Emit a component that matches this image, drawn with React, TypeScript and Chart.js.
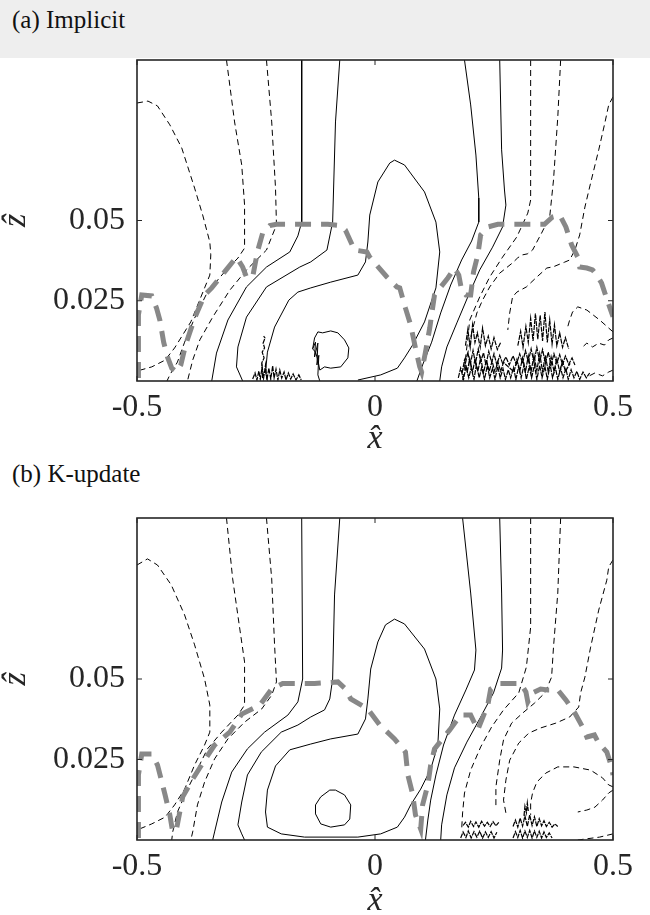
import React, { useEffect, useRef } from "react";
import { Chart, registerables } from "chart.js";

Chart.register(...registerables);

type Pt = [number, number];

// ---------- axes / text ----------
const X_RANGE: Pt = [-0.5, 0.5];
const Z_RANGE: Pt = [0, 0.1];
const X_TICKS = [-0.5, 0, 0.5];
const X_TICK_LABELS = ["-0.5", "0", "0.5"];
const Z_TICKS = [0.025, 0.05];
const Z_TICK_LABELS = ["0.025", "0.05"];
const PANEL_TITLES = ["(a) Implicit", "(b) K-update"];
const X_TITLE = "x\u0302";
const Z_TITLE = "\u1E91";

// ---------- panel (a) : Implicit ----------
const A_GRAY: Pt[] = [[-0.497,0.0009],[-0.497,0.0206],[-0.490,0.0268],[-0.469,0.0265],[-0.459,0.0227],[-0.452,0.0190],[-0.444,0.0121],[-0.436,0.0075],[-0.427,0.0040],[-0.417,0.0028],[-0.408,0.0050],[-0.398,0.0112],[-0.379,0.0196],[-0.358,0.0268],[-0.343,0.0290],[-0.316,0.0340],[-0.291,0.0386],[-0.278,0.0355],[-0.270,0.0324],[-0.257,0.0324],[-0.251,0.0371],[-0.246,0.0408],[-0.236,0.0461],[-0.221,0.0484],[-0.207,0.0488],[-0.148,0.0488],[-0.099,0.0488],[-0.072,0.0484],[-0.062,0.0470],[-0.043,0.0408],[-0.017,0.0402],[-0.011,0.0386],[0.025,0.0324],[0.046,0.0293],[0.052,0.0290],[0.064,0.0227],[0.075,0.0174],[0.085,0.0103],[0.094,0.0044],[0.098,0.0028],[0.106,0.0090],[0.115,0.0165],[0.121,0.0227],[0.125,0.0268],[0.153,0.0321],[0.167,0.0352],[0.176,0.0330],[0.182,0.0283],[0.191,0.0268],[0.201,0.0268],[0.207,0.0340],[0.216,0.0393],[0.222,0.0455],[0.237,0.0480],[0.258,0.0488],[0.325,0.0488],[0.356,0.0488],[0.373,0.0511],[0.388,0.0517],[0.401,0.0480],[0.413,0.0424],[0.426,0.0386],[0.430,0.0355],[0.445,0.0352],[0.457,0.0346],[0.466,0.0330],[0.476,0.0305],[0.485,0.0265],[0.493,0.0230],[0.5,0.0200]];

const A_L1: Pt[] = [[-0.5,0.0866],[-0.477,0.0872],[-0.457,0.0857],[-0.431,0.0798],[-0.406,0.0726],[-0.379,0.0601],[-0.362,0.0517],[-0.347,0.0433],[-0.345,0.0393],[-0.347,0.0330],[-0.358,0.0290],[-0.387,0.0184],[-0.421,0.0103],[-0.441,0.0065],[-0.469,0.0044],[-0.5,0.0031]];
const A_L2: Pt[] = [[-0.312,0.1],[-0.295,0.0807],[-0.280,0.0673],[-0.274,0.0548],[-0.274,0.0414],[-0.288,0.0383],[-0.316,0.0340],[-0.352,0.0277],[-0.379,0.0196],[-0.400,0.0121],[-0.415,0.0059],[-0.431,0.0019],[-0.437,0]];
const A_L3: Pt[] = [[-0.228,0.1],[-0.217,0.0807],[-0.209,0.0601],[-0.207,0.0486],[-0.228,0.0408],[-0.270,0.0346],[-0.305,0.0283],[-0.341,0.0199],[-0.368,0.0128],[-0.383,0.0065],[-0.394,0]];
const A_L4: Pt[] = [[-0.154,0.1],[-0.154,0.0495],[-0.162,0.0452],[-0.179,0.0402],[-0.228,0.0355],[-0.270,0.0293],[-0.309,0.0190],[-0.333,0.0087],[-0.343,0]];
const A_L5: Pt[] = [[-0.074,0.1],[-0.083,0.0807],[-0.089,0.0495],[-0.101,0.0408],[-0.135,0.0371],[-0.158,0.0355],[-0.228,0.0293],[-0.270,0.0199],[-0.288,0.0106],[-0.291,0.0044],[-0.278,0]];
const A_L6: Pt[] = [[-0.226,0],[-0.230,0.0028],[-0.226,0.0090],[-0.211,0.0168],[-0.181,0.0252],[-0.162,0.0277],[-0.135,0.0290],[-0.093,0.0308],[-0.036,0.0330],[-0.020,0.0371],[-0.015,0.0433],[-0.011,0.0517],[0.006,0.0620],[0.031,0.0679],[0.041,0.0688],[0.062,0.0673],[0.104,0.0589],[0.128,0.0495],[0.136,0.0402],[0.128,0.0290],[0.104,0.0184],[0.079,0.0112],[0.062,0.0072],[0.047,0.0040],[0.012,0.0019],[-0.036,0.0003]];
const A_LOOP: Pt[] = [[-0.131,0.0100],[-0.127,0.0134],[-0.120,0.0153],[-0.110,0.0150],[-0.093,0.0156],[-0.078,0.0150],[-0.064,0.0128],[-0.055,0.0103],[-0.057,0.0072],[-0.072,0.0044],[-0.093,0.0040],[-0.106,0.0044],[-0.116,0.0034],[-0.120,0.0065],[-0.125,0.0090],[-0.131,0.0100]];
const A_LOOP_JAG: Pt[] = [[-0.131,0.0100],[-0.125,0.0121],[-0.127,0.0075],[-0.120,0.0118],[-0.122,0.0050],[-0.118,0.0080],[-0.120,0.0019],[-0.116,0]];
const A_L7: Pt[] = [[0.188,0.1],[0.201,0.0860],[0.212,0.0704],[0.218,0.0570],[0.218,0.0495],[0.203,0.0436],[0.182,0.0377],[0.159,0.0299],[0.138,0.0212],[0.119,0.0121],[0.100,0.0050],[0.088,0]];
const A_L8: Pt[] = [[0.262,0.1],[0.266,0.0720],[0.272,0.0595],[0.275,0.0548],[0.268,0.0480],[0.247,0.0417],[0.220,0.0346],[0.195,0.0262],[0.172,0.0181],[0.151,0.0106],[0.140,0.0044],[0.136,0]];
const A_R1: Pt[] = [[0.327,0.1],[0.327,0.0720],[0.327,0.0564],[0.321,0.0523],[0.298,0.0449],[0.268,0.0386],[0.241,0.0324],[0.220,0.0262],[0.199,0.0190],[0.193,0.0106],[0.188,0.0044],[0.184,0]];
const A_R2: Pt[] = [[0.390,0.1],[0.384,0.0822],[0.375,0.0626],[0.367,0.0511],[0.350,0.0461],[0.331,0.0408],[0.320,0.0396],[0.310,0.0393],[0.300,0.0384],[0.289,0.0368],[0.262,0.0336],[0.241,0.0293],[0.226,0.0252],[0.214,0.0212],[0.203,0.0150],[0.195,0.0087]];
const A_R3: Pt[] = [[0.5,0.0885],[0.491,0.0860],[0.482,0.0798],[0.470,0.0720],[0.453,0.0617],[0.441,0.0542],[0.430,0.0455],[0.420,0.0408],[0.409,0.0377],[0.398,0.0370],[0.388,0.0364],[0.375,0.0356],[0.361,0.0352],[0.340,0.0324],[0.318,0.0293],[0.298,0.0277],[0.289,0.0262],[0.283,0.0212],[0.279,0.0159]];
const A_R4: Pt[] = [[0.5,0.0153],[0.472,0.0190],[0.445,0.0221],[0.426,0.0231],[0.415,0.0215],[0.409,0.0190],[0.403,0.0159]];
const A_R5: Pt[] = [[0.5,0.0134],[0.491,0.0128],[0.482,0.0112],[0.470,0.0118],[0.457,0.0106],[0.445,0.0118],[0.434,0.0103]];
const A_R6: Pt[] = [[0.5,0.0034],[0.491,0.0028],[0.478,0.0016],[0.462,0.0025],[0.445,0.0012]];

const A_NOISE_1: Pt[] = [[-0.257,0.0006],[-0.252,0.0025],[-0.248,0.0003],[-0.244,0.0031],[-0.241,0.0006],[-0.237,0.0044],[-0.234,0.0009],[-0.230,0.0050],[-0.227,0.0003],[-0.223,0.0040],[-0.219,0.0006],[-0.215,0.0047],[-0.212,0.0009],[-0.208,0.0037],[-0.204,0.0003],[-0.200,0.0034],[-0.196,0.0009],[-0.191,0.0028],[-0.187,0.0003],[-0.182,0.0025],[-0.177,0.0006],[-0.172,0.0022],[-0.166,0.0003],[-0.160,0.0019],[-0.155,0.0003]];
const A_NOISE_2: Pt[] = [[-0.236,0.0009],[-0.238,0.0056],[-0.233,0.0072],[-0.237,0.0090],[-0.232,0.0103],[-0.235,0.0118],[-0.231,0.0134],[-0.234,0.0140]];
const A_NOISE_3: Pt[] = [[0.175,0.001],[0.180,0.004],[0.186,0.0005],[0.191,0.0045],[0.197,0.001],[0.202,0.004],[0.208,0.0005],[0.213,0.005],[0.219,0.001],[0.224,0.0042],[0.230,0.0005],[0.236,0.0048],[0.241,0.001],[0.247,0.004],[0.252,0.0005],[0.258,0.0045],[0.263,0.001],[0.269,0.0038],[0.274,0.0005],[0.280,0.0035],[0.285,0.001],[0.291,0.0042],[0.296,0.0005],[0.302,0.0046],[0.307,0.001],[0.313,0.005],[0.318,0.0005],[0.324,0.0045],[0.329,0.001],[0.335,0.005],[0.340,0.0005],[0.346,0.0048],[0.351,0.001],[0.357,0.0045],[0.362,0.0005],[0.368,0.005],[0.373,0.001],[0.379,0.0042],[0.384,0.0005],[0.390,0.004],[0.395,0.001],[0.401,0.0038],[0.406,0.0005],[0.412,0.0035],[0.418,0.001],[0.424,0.003],[0.430,0.0005],[0.437,0.0028],[0.444,0.001],[0.451,0.0025]];
const A_NOISE_4: Pt[] = [[0.19,0.0055],[0.195,0.009],[0.2,0.005],[0.206,0.0095],[0.211,0.0055],[0.217,0.010],[0.222,0.006],[0.228,0.0088],[0.233,0.005],[0.239,0.0092],[0.245,0.0058],[0.25,0.0085],[0.256,0.005],[0.262,0.008],[0.268,0.0055],[0.275,0.0075],[0.282,0.005],[0.29,0.0078],[0.297,0.0052],[0.304,0.0085],[0.31,0.0055],[0.316,0.0095],[0.322,0.006],[0.328,0.010],[0.334,0.0058],[0.34,0.0105],[0.346,0.006],[0.352,0.0098],[0.358,0.0055],[0.364,0.009],[0.37,0.005],[0.376,0.0085],[0.382,0.0055],[0.388,0.0082],[0.394,0.005],[0.40,0.0078],[0.407,0.0052],[0.414,0.0072],[0.42,0.005]];
const A_NOISE_5: Pt[] = [[0.19,0.011],[0.195,0.016],[0.2,0.0105],[0.205,0.0175],[0.21,0.012],[0.215,0.015],[0.221,0.0105],[0.226,0.0165],[0.232,0.011],[0.238,0.014],[0.244,0.010],[0.25,0.0135],[0.257,0.0098],[0.264,0.012]];
const A_NOISE_6: Pt[] = [[0.30,0.011],[0.306,0.0155],[0.311,0.0105],[0.317,0.017],[0.322,0.012],[0.327,0.0195],[0.332,0.0125],[0.337,0.021],[0.342,0.013],[0.347,0.0205],[0.352,0.0125],[0.357,0.0215],[0.362,0.012],[0.367,0.019],[0.372,0.0115],[0.377,0.0175],[0.382,0.011],[0.388,0.015],[0.394,0.0105],[0.40,0.0135],[0.407,0.010]];
const A_NOISE_7: Pt[] = [[0.183,0.0025],[0.188,0.0065],[0.194,0.003],[0.199,0.007],[0.205,0.0028],[0.21,0.0068],[0.216,0.003],[0.222,0.0072],[0.228,0.0025],[0.234,0.0066],[0.24,0.003],[0.246,0.0062],[0.252,0.0028],[0.258,0.006],[0.264,0.003],[0.27,0.0058],[0.292,0.0028],[0.298,0.0066],[0.304,0.003],[0.31,0.0072],[0.316,0.0028],[0.322,0.0078],[0.328,0.003],[0.334,0.008],[0.34,0.0032],[0.346,0.0085],[0.352,0.003],[0.358,0.008],[0.364,0.0028],[0.37,0.0075],[0.376,0.003],[0.382,0.007],[0.388,0.0028],[0.394,0.0062],[0.40,0.003],[0.41,0.0055]];

// ---------- panel (b) : K-update ----------
const B_GRAY: Pt[] = [[-0.497,0.0006],[-0.497,0.0202],[-0.490,0.0267],[-0.469,0.0267],[-0.457,0.0233],[-0.450,0.0193],[-0.441,0.0140],[-0.431,0.0078],[-0.425,0.0025],[-0.417,0.0034],[-0.404,0.0134],[-0.383,0.0189],[-0.358,0.0248],[-0.337,0.0295],[-0.305,0.0335],[-0.280,0.0391],[-0.242,0.0419],[-0.217,0.0469],[-0.194,0.0486],[-0.148,0.0486],[-0.127,0.0486],[-0.078,0.0491],[-0.062,0.0469],[-0.051,0.0438],[-0.015,0.0407],[0.010,0.0357],[0.041,0.0314],[0.064,0.0273],[0.069,0.0202],[0.079,0.0143],[0.085,0.0078],[0.096,0.0034],[0.100,0.0109],[0.111,0.0171],[0.117,0.0233],[0.125,0.0283],[0.157,0.0342],[0.180,0.0388],[0.201,0.0388],[0.216,0.0342],[0.230,0.0394],[0.237,0.0419],[0.243,0.0469],[0.262,0.0486],[0.306,0.0486],[0.317,0.0460],[0.321,0.0429],[0.331,0.0457],[0.348,0.0469],[0.363,0.0466],[0.384,0.0466],[0.401,0.0435],[0.420,0.0394],[0.436,0.0351],[0.445,0.0320],[0.461,0.0326],[0.470,0.0301],[0.487,0.0273],[0.497,0.0227],[0.5,0.0202]];

const B_L1: Pt[] = [[-0.5,0.0854],[-0.478,0.0873],[-0.457,0.0854],[-0.428,0.0792],[-0.400,0.0699],[-0.379,0.0606],[-0.358,0.0500],[-0.347,0.0419],[-0.347,0.0335],[-0.358,0.0295],[-0.379,0.0233],[-0.400,0.0158],[-0.421,0.0109],[-0.441,0.0071],[-0.469,0.0050],[-0.5,0.0031]];
const B_L2: Pt[] = [[-0.312,0.1],[-0.299,0.0811],[-0.284,0.0655],[-0.274,0.0553],[-0.274,0.0419],[-0.288,0.0388],[-0.322,0.0335],[-0.352,0.0283],[-0.373,0.0220],[-0.394,0.0158],[-0.415,0.0087],[-0.425,0.0025],[-0.427,0]];
const B_L3: Pt[] = [[-0.228,0.1],[-0.217,0.0811],[-0.211,0.0606],[-0.207,0.0491],[-0.217,0.0450],[-0.238,0.0407],[-0.274,0.0366],[-0.309,0.0314],[-0.337,0.0252],[-0.358,0.0180],[-0.373,0.0109],[-0.383,0.0025],[-0.387,0]];
const B_L4: Pt[] = [[-0.154,0.1],[-0.152,0.0500],[-0.162,0.0429],[-0.183,0.0388],[-0.232,0.0335],[-0.268,0.0283],[-0.301,0.0211],[-0.322,0.0118],[-0.337,0.0025],[-0.341,0]];
const B_L5: Pt[] = [[-0.074,0.1],[-0.085,0.0761],[-0.089,0.0500],[-0.095,0.0438],[-0.106,0.0404],[-0.135,0.0382],[-0.162,0.0357],[-0.197,0.0335],[-0.239,0.0273],[-0.268,0.0202],[-0.280,0.0118],[-0.288,0.0047],[-0.280,0.0019],[-0.274,0]];
const B_L6: Pt[] = [[-0.036,0.0009],[-0.148,0.0009],[-0.197,0.0019],[-0.226,0.0040],[-0.230,0.0087],[-0.226,0.0155],[-0.209,0.0230],[-0.179,0.0280],[-0.135,0.0298],[-0.093,0.0314],[-0.036,0.0329],[-0.020,0.0376],[-0.015,0.0438],[-0.009,0.0531],[0.006,0.0615],[0.022,0.0668],[0.041,0.0686],[0.062,0.0671],[0.104,0.0593],[0.128,0.0500],[0.136,0.0407],[0.132,0.0295],[0.117,0.0220],[0.096,0.0158],[0.075,0.0109],[0.062,0.0071],[0.047,0.0040],[0.012,0.0019],[-0.036,0.0009]];
const B_LOOP: Pt[] = [[-0.125,0.0109],[-0.114,0.0134],[-0.095,0.0155],[-0.083,0.0155],[-0.064,0.0140],[-0.051,0.0109],[-0.053,0.0065],[-0.064,0.0047],[-0.093,0.0040],[-0.114,0.0050],[-0.125,0.0081],[-0.125,0.0109]];
const B_L7: Pt[] = [[0.184,0.1],[0.201,0.0767],[0.212,0.0590],[0.209,0.0528],[0.191,0.0466],[0.167,0.0388],[0.144,0.0295],[0.128,0.0202],[0.117,0.0124],[0.111,0.0062],[0.106,0]];
const B_L8: Pt[] = [[0.262,0.1],[0.266,0.0767],[0.268,0.0590],[0.266,0.0534],[0.249,0.0457],[0.222,0.0382],[0.193,0.0304],[0.167,0.0224],[0.151,0.0140],[0.140,0.0047],[0.138,0]];
const B_R1: Pt[] = [[0.327,0.1],[0.327,0.0661],[0.318,0.0537],[0.302,0.0457],[0.270,0.0404],[0.245,0.0351],[0.222,0.0289],[0.201,0.0217],[0.188,0.0146],[0.184,0.0084],[0.182,0.0031]];
const B_R2: Pt[] = [[0.390,0.1],[0.384,0.0767],[0.375,0.0599],[0.371,0.0506],[0.357,0.0457],[0.335,0.0425],[0.310,0.0394],[0.287,0.0363],[0.270,0.0311],[0.262,0.0248],[0.254,0.0165],[0.254,0.0102]];
const B_R3: Pt[] = [[0.5,0.0870],[0.491,0.0848],[0.487,0.0807],[0.470,0.0714],[0.453,0.0599],[0.441,0.0506],[0.432,0.0457],[0.428,0.0413],[0.409,0.0382],[0.380,0.0363],[0.348,0.0348],[0.323,0.0332],[0.302,0.0301],[0.283,0.0248],[0.275,0.0186],[0.270,0.0124],[0.275,0.0084]];
const B_R4: Pt[] = [[0.5,0.0165],[0.491,0.0171],[0.478,0.0193],[0.453,0.0217],[0.418,0.0227],[0.384,0.0227],[0.359,0.0208],[0.340,0.0180],[0.331,0.0146],[0.327,0.0115],[0.327,0.0078]];
const B_R5: Pt[] = [[0.5,0.0155],[0.491,0.0146],[0.478,0.0124],[0.462,0.0102],[0.445,0.0093],[0.426,0.0087]];
const B_R6: Pt[] = [[0.5,0.0019],[0.472,0.0009],[0.426,0]];

const B_NOISE_1: Pt[] = [[0.185,0.0045],[0.19,0.0055],[0.196,0.004],[0.201,0.0058],[0.207,0.0042],[0.212,0.0056],[0.218,0.004],[0.224,0.0058],[0.23,0.0043],[0.236,0.0055],[0.242,0.0042],[0.248,0.0057],[0.254,0.0044],[0.26,0.0055]];
const B_NOISE_2: Pt[] = [[0.18,0.0006],[0.185,0.0025],[0.191,0.0008],[0.196,0.0028],[0.202,0.0006],[0.208,0.0026],[0.214,0.0009],[0.22,0.0027],[0.226,0.0006],[0.232,0.0025],[0.238,0.0008],[0.244,0.0026],[0.25,0.0006],[0.256,0.0024]];
const B_NOISE_3: Pt[] = [[0.29,0.0042],[0.295,0.0062],[0.3,0.004],[0.305,0.0068],[0.31,0.0043],[0.315,0.0075],[0.32,0.0042],[0.325,0.0078],[0.33,0.0045],[0.335,0.0072],[0.34,0.0042],[0.345,0.0066],[0.35,0.0044],[0.355,0.006],[0.36,0.0042],[0.366,0.0055],[0.372,0.004],[0.378,0.005],[0.384,0.0042]];
const B_NOISE_4: Pt[] = [[0.29,0.0006],[0.295,0.0026],[0.3,0.0008],[0.305,0.003],[0.31,0.0006],[0.315,0.0028],[0.32,0.0008],[0.325,0.003],[0.33,0.0006],[0.335,0.0028],[0.34,0.0008],[0.345,0.0027],[0.35,0.0006],[0.355,0.0025],[0.36,0.0008],[0.366,0.0022],[0.372,0.0006]];
const B_NOISE_5: Pt[] = [[0.313,0.0075],[0.315,0.0105],[0.318,0.0085],[0.32,0.0115],[0.322,0.009]];

const A_SOLID = [A_L4, A_L5, A_L6, A_L7, A_L8, A_LOOP, A_LOOP_JAG];
const A_DASHED = [A_L1, A_L2, A_L3, A_R1, A_R2, A_R3, A_R4, A_R5, A_R6];
const A_NOISE = [A_NOISE_1, A_NOISE_2, A_NOISE_3, A_NOISE_4, A_NOISE_5, A_NOISE_6, A_NOISE_7];
const B_SOLID = [B_L4, B_L5, B_L6, B_L7, B_L8, B_LOOP];
const B_DASHED = [B_L1, B_L2, B_L3, B_R1, B_R2, B_R3, B_R4, B_R5, B_R6];
const B_NOISE = [B_NOISE_1, B_NOISE_2, B_NOISE_3, B_NOISE_4, B_NOISE_5];

const SERIF = "'Liberation Serif', 'Times New Roman', serif";
const AXIS_COLOR = "#262626";

function line(data: Pt[], kind: "solid" | "dashed" | "gray" | "noise") {
  const base: any = {
    data,
    showLine: true,
    pointRadius: 0,
    pointHoverRadius: 0,
    fill: false,
    tension: 0,
    borderColor: "#000",
    borderWidth: 1,
  };
  if (kind === "gray") return { ...base, borderColor: "#888888", borderWidth: 5, borderDash: [16, 10] };
  if (kind === "dashed") return { ...base, borderDash: [6, 4] };
  if (kind === "noise") return { ...base, borderWidth: 1.2, borderDash: [5, 1] };
  return base;
}

const framePlugin = {
  id: "matlabFrame",
  afterDatasetsDraw(chart: any) {
    const { ctx, chartArea: a, scales } = chart;
    ctx.save();
    ctx.strokeStyle = AXIS_COLOR;
    ctx.lineWidth = 1;
    ctx.beginPath();
    for (const v of X_TICKS) {
      const px = scales.x.getPixelForValue(v);
      ctx.moveTo(px, a.bottom); ctx.lineTo(px, a.bottom - 5);
      ctx.moveTo(px, a.top); ctx.lineTo(px, a.top + 5);
    }
    for (const v of Z_TICKS) {
      const py = scales.y.getPixelForValue(v);
      ctx.moveTo(a.left, py); ctx.lineTo(a.left + 5, py);
      ctx.moveTo(a.right, py); ctx.lineTo(a.right - 5, py);
    }
    ctx.stroke();
    ctx.lineWidth = 1.6;
    ctx.strokeRect(a.left, a.top, a.right - a.left, a.bottom - a.top);
    ctx.restore();
  },
};

type PanelProps = {
  top: number;
  height: number;
  padTop: number;
  xAxisH: number;
  gray: Pt[];
  solid: Pt[][];
  dashed: Pt[][];
  noise: Pt[][];
};

function Panel({ top, height, padTop, xAxisH, gray, solid, dashed, noise }: PanelProps) {
  const ref = useRef<HTMLCanvasElement>(null);
  useEffect(() => {
    const datasets = [
      line(gray, "gray"),
      ...solid.map((d) => line(d, "solid")),
      ...dashed.map((d) => line(d, "dashed")),
      ...noise.map((d) => line(d, "noise")),
    ];
    const chart = new Chart(ref.current as HTMLCanvasElement, {
      type: "scatter",
      data: { datasets },
      options: {
        animation: false,
        responsive: false,
        events: [],
        layout: { padding: { left: 0, right: 37, top: padTop, bottom: 0 } },
        plugins: { legend: { display: false }, tooltip: { enabled: false } },
        scales: {
          x: {
            type: "linear",
            min: X_RANGE[0],
            max: X_RANGE[1],
            grid: { display: false, drawTicks: false },
            border: { display: false },
            afterBuildTicks: (s: any) => { s.ticks = X_TICKS.map((v) => ({ value: v })); },
            afterFit: (s: any) => { s.height = xAxisH; s.paddingLeft = 0; s.paddingRight = 0; },
            ticks: {
              autoSkip: false,
              maxRotation: 0,
              padding: 7,
              color: AXIS_COLOR,
              font: { family: SERIF, size: 32 },
              callback: (v: any) => X_TICK_LABELS[X_TICKS.indexOf(Number(v))] ?? "",
            },
            title: {
              display: true,
              text: X_TITLE,
              color: AXIS_COLOR,
              font: { family: SERIF, size: 34, style: "italic" },
              padding: { top: 0, bottom: 1 },
            },
          },
          y: {
            type: "linear",
            min: Z_RANGE[0],
            max: Z_RANGE[1],
            grid: { display: false, drawTicks: false },
            border: { display: false },
            afterBuildTicks: (s: any) => { s.ticks = Z_TICKS.map((v) => ({ value: v })); },
            afterFit: (s: any) => { s.width = 137; s.paddingTop = 0; s.paddingBottom = 0; },
            ticks: {
              autoSkip: false,
              padding: 12,
              color: AXIS_COLOR,
              font: { family: SERIF, size: 32 },
              callback: (v: any) => Z_TICK_LABELS[Z_TICKS.indexOf(Number(v))] ?? "",
            },
            title: {
              display: true,
              text: Z_TITLE,
              color: AXIS_COLOR,
              font: { family: SERIF, size: 34, style: "italic" },
              padding: { top: -4, bottom: 0 },
            },
          },
        },
      } as any,
      plugins: [framePlugin],
    });
    return () => chart.destroy();
  }, []);
  return (
    <canvas
      ref={ref}
      width={650}
      height={height}
      style={{ position: "absolute", left: 0, top, width: 650, height }}
    />
  );
}

const titleStyle: React.CSSProperties = {
  position: "absolute",
  left: 12,
  fontFamily: SERIF,
  fontSize: 25,
  lineHeight: "25px",
  color: "#111",
  whiteSpace: "nowrap",
};

export default function App() {
  return (
    <div style={{ position: "absolute", left: 0, top: 0, width: 650, height: 915, overflow: "hidden", background: "#fff" }}>
      <div style={{ position: "absolute", left: 0, top: 0, width: 650, height: 58, background: "#eeeeee" }} />
      <div style={{ ...titleStyle, top: 7 }}>{PANEL_TITLES[0]}</div>
      <Panel top={58} height={402} padTop={2} xAxisH={79} gray={A_GRAY} solid={A_SOLID} dashed={A_DASHED} noise={A_NOISE} />
      <div style={{ ...titleStyle, top: 461 }}>{PANEL_TITLES[1]}</div>
      <Panel top={460} height={462} padTop={58} xAxisH={82} gray={B_GRAY} solid={B_SOLID} dashed={B_DASHED} noise={B_NOISE} />
    </div>
  );
}
